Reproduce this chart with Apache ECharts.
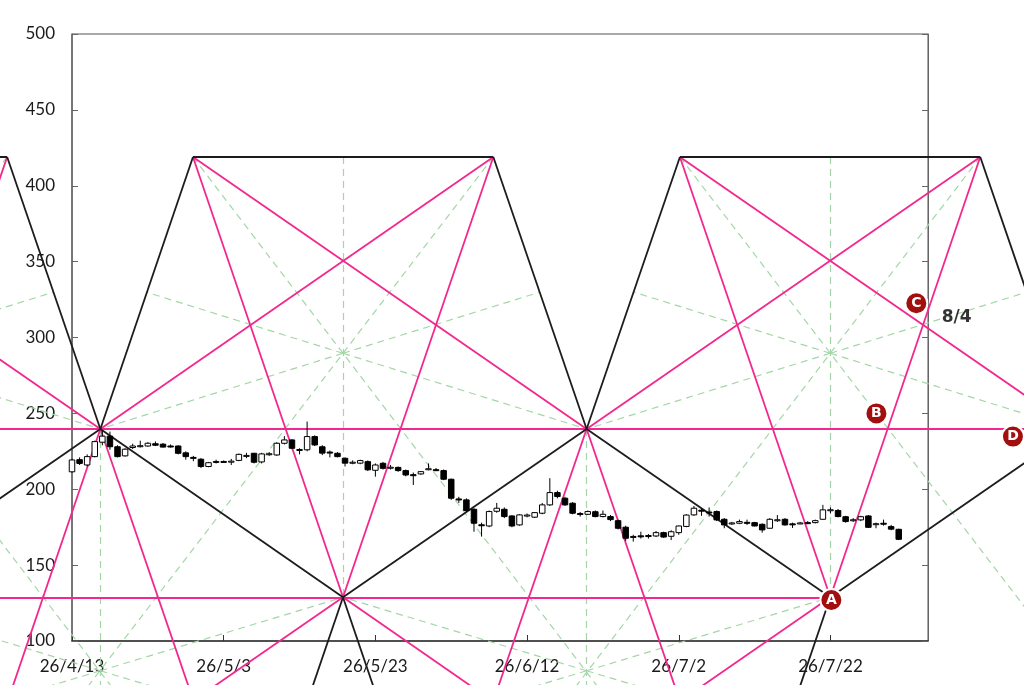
<!DOCTYPE html>
<html><head><meta charset="utf-8">
<script src="https://cdn.jsdelivr.net/npm/echarts@6/dist/echarts.min.js"></script>
<style>html,body{margin:0;padding:0;background:#fff}#c{width:1024px;height:685px}</style>
</head><body><div id="c"></div>
<script>
// ---------- data ----------
const startDateUTC = Date.UTC(2026, 3, 13);           // day 0 = 26/4/13
// daily candles [open, close, low, high], one per calendar day from 26/4/13
const candles = [
[211.5,219.3,211,220],[219.5,217,216,221],[216,221.5,215,223],[221.5,231.4,221,232],[231,235,229,239],
[235,228,226,238],[228,221.5,221,229],[222,226.4,221.5,227],[227.5,228.5,226.5,230],[228.3,228.7,227.5,232],
[228.5,230.3,228,231],[230,229,228.5,231.5],[229.7,227.8,227.5,230.5],[228.5,228.2,227.5,229.5],[228.5,223.7,223,229],
[224,221.5,219.5,225],[221,220.5,218.5,222],[219.8,215,214,220.5],[215,217.5,214.5,218],[218,218.3,217,219.5],
[218,218.3,217.5,219],[218.3,218.5,216,220],[219,223,218.5,223.5],[222,222.3,220.5,224],[223.7,217.8,217,224],
[218,223.3,217,224],[223,223.4,222,224.5],[222.6,230.3,222,231],[230.3,232.5,229.5,235],[232.5,227,226.5,233],
[226,226.2,223,227],[226,234.7,225,244.6],[234.7,229.2,228.5,235.5],[228,223.8,222.5,229],[224.5,224,221,225.5],
[223.7,221.5,221,224.5],[220.4,217.2,215,221],[217.5,217.8,216.5,219],[217.2,218.9,216.5,219.5],[218.2,212.8,212,219],
[212.5,216,208.3,217],[217.1,213.8,213,218],[214.3,214.5,213,216],[214.4,212.3,211.5,215],[212.3,209.4,208.5,213],
[209.6,209.4,202.8,211],[210.1,211.6,209.5,212],[213,213.5,212.5,217],[212.9,212.6,212,214],[212.3,206.6,206,213],
[206.6,194.1,193,207],[193.6,193.3,191,195],[193,186,185,194],[186.8,177.6,172,187.5],[176.6,176.3,168.8,178],
[175.8,185.3,175,186],[185.5,187.5,184.5,191],[186.8,182,181,188],[182.4,175.8,175,183],[176.5,183.1,176,183.5],
[182.7,183,181.5,184],[181.6,184.6,181,185],[184.2,189.7,183.5,191],[189.7,197.8,189,207.3],[197.8,195.2,194,199],
[194.1,189.7,189,195],[190.8,184.2,183.5,191.5],[184,183.5,182,185],[183.5,185.3,183,186],[185.2,182,181.5,186],
[182,183.5,181.5,186],[182,180,179,183],[179.3,174.3,173.5,180],[175,167.7,166,176],[168.6,168.9,165.5,170],
[169.3,169,167.5,172],[169.5,169,167.5,170.5],[169.2,171.4,168.5,172.5],[171.4,168.5,168,172],[169,172,166.5,173],
[171.4,175.8,170,176],[175.5,183,175,183.5],[183.1,187.5,182.5,189],[186.2,185.8,182.5,187],[185,184.5,182,188],
[185.3,179.8,179,186],[180.2,176.5,174.3,181],[177.3,177.8,176.5,178.5],[177.6,178.7,177,180],[178.2,177.9,176.5,180],
[178,175.8,175.5,178.5],[176.9,173.2,171.4,177.5],[174.3,180.2,174,181],[179.6,179.9,178.5,183],[180.2,176.5,176,181],
[177.2,177,174.5,178],[177.3,177.8,177,178.5],[178,177.8,177,179],[178,179.3,177.5,180],[180.2,186.4,180,189.7],
[186.2,186.5,184,188],[186,182,181.5,187],[181.9,178.7,178,182.5],[179.5,179.9,178.5,181],[179.8,181.9,179,182.5],
[182.4,174.9,174.5,183],[177,177.3,174.3,178],[177.6,177.4,176,180],[175.4,173.7,173,176.5],[173.6,167,166.5,174]
];
// construction pivots (day offset, price): low, high, low, high, low(A), high
const pivotDays   = [-28.34, 3.74, 35.73, 67.85, 99.98, 132.06];
const pivotPrices = [128.8, 239.7, 128.8, 239.7, 128.8, 239.7];
const lastPivot = 4;                                    // A: lower run-outs stop here
const topLevel = 419;                                   // upper corner level
const cornerDays = [-48.1, -8.55, 15.95, 55.55, 80.15, 119.75];
const upperStarPrice = 289.6;
const lowerStarPrice = 80.4;
const runOutLevel = 40;                                 // lines run on below the chart
// markers
const markerNames  = ['A', 'B', 'C', 'D'];
const markerDays   = [100.12, 106.06, 111.32, 124.06];
const markerPrices = [127.0, 250.0, 322.6, 234.7];
const noteText = '8/4';
const noteDay = 116.63, notePrice = 313.2;
// axes
const xTickDays = 20;
const yMin = 100, yMax = 500, yStep = 50;

// ---------- geometry helpers ----------
function ext(a, b, lvl) { const t = (lvl - a[1]) / (b[1] - a[1]); return [a[0] + t * (b[0] - a[0]), lvl]; }
function inter(p1, p2, p3, p4) {
  const d = (p1[0]-p2[0])*(p3[1]-p4[1]) - (p1[1]-p2[1])*(p3[0]-p4[0]);
  const a = p1[0]*p2[1] - p1[1]*p2[0], b = p3[0]*p4[1] - p3[1]*p4[0];
  return [(a*(p3[0]-p4[0]) - (p1[0]-p2[0])*b)/d, (a*(p3[1]-p4[1]) - (p1[1]-p2[1])*b)/d];
}
const P = pivotDays.map((d, i) => [d, pivotPrices[i]]);
const C = cornerDays.map(d => [d, topLevel]);
const n = P.length;
const black = [], pink = [], green = [];
for (let i = 0; i < n - 1; i++) black.push([P[i], P[i + 1]]);
for (let i = 0; i < n; i += 2) {            // low pivots
  black.push([C[i], C[i + 1]]);
  pink.push([P[i], C[i]]); pink.push([P[i], C[i + 1]]);
  black.push([P[i], ext(C[i + 1], P[i], runOutLevel)]);
  if (i < lastPivot) black.push([P[i], ext(C[i], P[i], runOutLevel)]);
  if (i + 1 < n) pink.push([P[i], ext(P[i + 1], P[i], runOutLevel)]);
  if (i - 1 >= 0 && i < lastPivot) pink.push([P[i], ext(P[i - 1], P[i], runOutLevel)]);
  const q = P[i][0], U = [q, upperStarPrice];
  green.push([[q, topLevel], P[i]]);
  [C[i], C[i + 1]].forEach(c => green.push([c, ext(c, U, runOutLevel)]));
  [i - 1, i + 1].forEach(j => { if (j >= 0 && j < n) green.push([U, P[j]]); });
  const dR = P[i + 1][0] - q;
  green.push([U, inter([q - dR, P[i + 1][1]], U, P[i + 1], C[i + 1])]);
  if (i - 1 >= 0) green.push([U, inter([q + dR, P[i + 1][1]], U, P[i - 1], C[i])]);
}
for (let i = 1; i < n; i += 2) {            // high pivots
  [i, i + 1].forEach(k => { if (C[k]) black.push([P[i], C[k]]); });
  [i - 1, i + 2].forEach(k => { if (C[k]) pink.push([P[i], C[k]]); });
  if (i > lastPivot) continue;
  [i, i + 1].forEach(k => pink.push([P[i], ext(C[k], P[i], runOutLevel)]));
  const r = P[i][0], V = [r, lowerStarPrice];
  green.push([P[i], [r, runOutLevel]]);
  [i - 1, i + 1].forEach(j => { if (j >= 0 && j < n) { green.push([V, P[j]]); green.push([V, ext(P[j], V, runOutLevel)]); } });
}
pink.push([[cornerDays[0], pivotPrices[1]], P[5]]);
pink.push([P[0], P[lastPivot]]);

function dateLabel(v) {
  const d = new Date(startDateUTC + v * 86400000);
  return String(d.getUTCFullYear()).slice(2) + '/' + (d.getUTCMonth() + 1) + '/' + d.getUTCDate();
}
const lineSeries = (segs, color, width, type, z) => ({
  type: 'lines', coordinateSystem: 'cartesian2d', clip: false, silent: true, z: z, polyline: false,
  lineStyle: { color: color, width: width, type: type, opacity: 1, curveness: 0 },
  data: segs.map(s => ({ coords: s }))
});

const chart = echarts.init(document.getElementById('c'));
const axisFont = { fontFamily: 'Lato', fontSize: 17, color: '#1a1a1a' };
chart.setOption({
  animation: false,
  backgroundColor: '#fff',
  grid: { left: 72, right: 96, top: 34, bottom: 44, show: true, borderColor: '#555', borderWidth: 1, containLabel: false, outerBoundsMode: 'none' },
  xAxis: {
    type: 'value', min: 0, max: 112.86, interval: xTickDays,
    splitLine: { show: false },
    axisLine: { lineStyle: { color: '#333', width: 1.5 } },
    axisTick: { inside: true, length: 6, lineStyle: { color: '#333' } },
    axisLabel: Object.assign({ margin: 17, showMaxLabel: false, formatter: dateLabel }, axisFont)
  },
  yAxis: [{
    type: 'value', min: yMin, max: yMax, interval: yStep,
    splitLine: { show: false },
    axisLine: { show: true, lineStyle: { color: '#666', width: 1.5 } },
    axisTick: { show: true, inside: true, length: 6, lineStyle: { color: '#666' } },
    axisLabel: Object.assign({ margin: 17 }, axisFont)
  }, {
    type: 'value', min: yMin, max: yMax, interval: yStep, position: 'right',
    splitLine: { show: false },
    axisLine: { show: true, lineStyle: { color: '#666', width: 1 } },
    axisTick: { show: true, inside: true, length: 6, lineStyle: { color: '#666' } },
    axisLabel: { show: false }
  }],
  series: [
    lineSeries(green, '#a3d7a6', 1.2, [7, 5], 1),
    lineSeries(pink, '#f2288e', 1.8, 'solid', 2),
    lineSeries(black, '#1c1c1c', 1.8, 'solid', 3),
    {
      type: 'custom', z: 4, silent: true,
      data: candles.map((c, i) => [i, c[0], c[1], c[2], c[3]]),
      encode: { x: 0, y: [1, 2, 3, 4] },
      renderItem: function (params, api) {
        const x = api.value(0), o = api.value(1), cl = api.value(2), lo = api.value(3), hi = api.value(4);
        const pO = api.coord([x, o]), pC = api.coord([x, cl]), pL = api.coord([x, lo]), pH = api.coord([x, hi]);
        const w = 5.5;
        const top = Math.min(pO[1], pC[1]), h = Math.max(1, Math.abs(pO[1] - pC[1]));
        return { type: 'group', children: [
          { type: 'line', shape: { x1: pL[0], y1: pL[1], x2: pH[0], y2: pH[1] }, style: { stroke: '#000', lineWidth: 1 } },
          { type: 'rect', shape: { x: pO[0] - w / 2, y: top, width: w, height: h },
            style: { fill: cl >= o ? '#fff' : '#000', stroke: '#000', lineWidth: 1 } }
        ] };
      }
    },
    {
      type: 'scatter', z: 6, clip: false, silent: true, symbol: 'circle', symbolSize: 22,
      itemStyle: { color: '#a30f0f', borderColor: '#fff', borderWidth: 2, opacity: 1 },
      label: { show: true, position: 'inside', color: '#fff', fontWeight: 'bold', fontSize: 14, fontFamily: 'DejaVu Sans',
               formatter: p => p.name },
      data: markerNames.map((nm, i) => ({ name: nm, value: [markerDays[i], markerPrices[i]] }))
    },
    {
      type: 'scatter', z: 6, clip: false, silent: true, symbol: 'circle', symbolSize: 1,
      itemStyle: { color: 'rgba(0,0,0,0)' },
      label: { show: true, position: 'inside', color: '#000', fontWeight: 900, fontSize: 17, fontFamily: 'DejaVu Sans',
               formatter: noteText },
      data: [[noteDay, notePrice]]
    }
  ]
});
</script></body></html>
